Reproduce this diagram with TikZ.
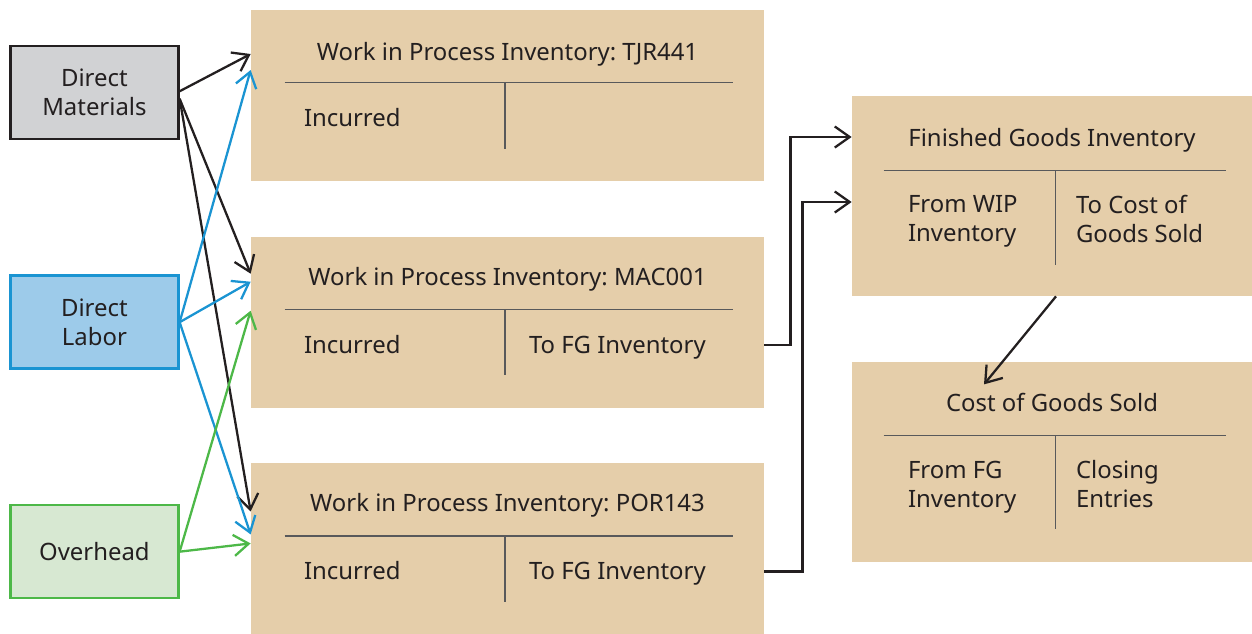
\documentclass[tikz,border=0pt]{standalone}
\usepackage{fontspec}
\setmainfont{Noto Sans}
\usepackage{tikz}
\usetikzlibrary{positioning, arrows.meta}
\usepackage{xcolor}
\frenchspacing

\definecolor{tanfill}{HTML}{E5CEAA}
\definecolor{matfill}{HTML}{D1D2D4}
\definecolor{matline}{HTML}{231F20}
\definecolor{labfill}{HTML}{9DCBEA}
\definecolor{labline}{HTML}{1A94D2}
\definecolor{ovhfill}{HTML}{D7E8D2}
\definecolor{ovhline}{HTML}{4DB848}
\definecolor{tgray}{HTML}{58595B}

\begin{document}
\begin{tikzpicture}[>={Straight Barb[length=8.5pt,width=12pt]},
    every node/.style={font=\fontsize{13.6}{16.5}\selectfont, text=matline},
    cost/.style={draw, line width=1.4pt, minimum width=3.36cm, minimum height=1.86cm, align=center},
    account/.style={fill=tanfill, inner sep=0pt, minimum width=10.26cm, minimum height=3.42cm},
    fgaccount/.style={fill=tanfill, inner sep=0pt, minimum width=8cm, minimum height=4cm},
    title/.style={inner sep=0pt, text height=0.8em, text depth=0.25em},
    entry/.style={inner sep=0pt, anchor=west, align=left, text depth=0.25em},
    tline/.style={tgray, line width=0.8pt},
    flow/.style={->, line width=1.3pt}]
    \useasboundingbox (0,0) rectangle (25.04,-12.66);

    % work in process accounts
    \node[account] (wip1) at (10.15,-1.91) {};
    \node[account] (wip2) [below=1.1cm of wip1] {};
    \node[account] (wip3) [below=1.1cm of wip2] {};

    % cost inputs
    \node[cost, fill=labfill, draw=labline] (dl) [left=1.42cm of wip2] {Direct\\Labor};
    \node[cost, fill=matfill, draw=matline] (dm) [above=2.68cm of dl] {Direct\\Materials};
    \node[cost, fill=ovhfill, draw=ovhline] (oh) [below=2.68cm of dl] {Overhead};

    % finished goods and cost of goods sold
    \node[fgaccount] (fg) at (21.04,-3.92) {};
    \node[fgaccount] (cogs) [below=1.3cm of fg] {};

    % T-accounts for WIP
    \node[title] (t1) at ([yshift=-0.92cm]wip1.north) {Work in Process Inventory: TJR441};
    \draw[tline] ([shift={(0.68,-1.46)}]wip1.north west) -- ([shift={(-0.62,-1.46)}]wip1.north east);
    \draw[tline] ([shift={(-0.05,-1.46)}]wip1.north) -- ([shift={(-0.05,-2.78)}]wip1.north);
    \node[entry, text height=0.8em] (in1) at ([shift={(1.06,-2.24)}]wip1.north west) {Incurred};

    \node[title] (t2) at ([yshift=-0.89cm]wip2.north) {Work in Process Inventory: MAC001};
    \draw[tline] ([shift={(0.68,-1.46)}]wip2.north west) -- ([shift={(-0.62,-1.46)}]wip2.north east);
    \draw[tline] ([shift={(-0.05,-1.46)}]wip2.north) -- ([shift={(-0.05,-2.78)}]wip2.north);
    \node[entry, text height=0.8em] (in2) at ([shift={(1.06,-2.24)}]wip2.north west) {Incurred};
    \node[entry, text height=0.8em] (out2) at ([shift={(5.56,-2.24)}]wip2.north west) {To FG Inventory};

    \node[title] (t3) at ([yshift=-0.88cm]wip3.north) {Work in Process Inventory: POR143};
    \draw[tline] ([shift={(0.68,-1.46)}]wip3.north west) -- ([shift={(-0.62,-1.46)}]wip3.north east);
    \draw[tline] ([shift={(-0.05,-1.46)}]wip3.north) -- ([shift={(-0.05,-2.78)}]wip3.north);
    \node[entry, text height=0.8em] (in3) at ([shift={(1.06,-2.24)}]wip3.north west) {Incurred};
    \node[entry, text height=0.8em] (out3) at ([shift={(5.56,-2.24)}]wip3.north west) {To FG Inventory};

    % T-accounts for FG and COGS
    \node[title] (t4) at ([yshift=-0.92cm]fg.north) {Finished Goods Inventory};
    \draw[tline] ([shift={(0.64,-1.5)}]fg.north west) -- ([shift={(-0.52,-1.5)}]fg.north east);
    \draw[tline] ([shift={(4.08,-1.5)}]fg.north west) -- ([shift={(4.08,-3.38)}]fg.north west);
    \node[entry] (in4) at ([shift={(1.12,-2.50)}]fg.north west) {From WIP\\Inventory};
    \node[entry] (out4) at ([shift={(4.48,-2.50)}]fg.north west) {To Cost of\\Goods Sold};

    \node[title] (t5) at ([yshift=-0.90cm]cogs.north) {Cost of Goods Sold};
    \draw[tline] ([shift={(0.64,-1.48)}]cogs.north west) -- ([shift={(-0.52,-1.48)}]cogs.north east);
    \draw[tline] ([shift={(4.08,-1.48)}]cogs.north west) -- ([shift={(4.08,-3.36)}]cogs.north west);
    \node[entry] (in5) at ([shift={(1.12,-2.50)}]cogs.north west) {From FG\\Inventory};
    \node[entry] (out5) at ([shift={(4.48,-2.50)}]cogs.north west) {Closing\\Entries};

    % costs into WIP
    \draw[flow, matline] ([yshift=0.03cm]dm.east) -- ([yshift=0.83cm]wip1.west);
    \draw[flow, matline] ([yshift=-0.12cm]dm.east) -- ([yshift=0.97cm]wip2.west);
    \draw[flow, matline] ([yshift=-0.12cm]dm.east) -- ([yshift=0.75cm]wip3.west);
    \draw[flow, labline] (dl.east) -- ([yshift=0.51cm]wip1.west);
    \draw[flow, labline] (dl.east) -- ([yshift=0.81cm]wip2.west);
    \draw[flow, labline] (dl.east) -- ([yshift=0.29cm]wip3.west);
    \draw[flow, ovhline] (oh.east) -- ([yshift=0.23cm]wip2.west);
    \draw[flow, ovhline] (oh.east) -- ([yshift=0.11cm]wip3.west);

    % transfers
    \draw[flow, matline] ([yshift=-0.45cm]wip2.east) -- ++(0.52,0) |- ([yshift=1.18cm]fg.west);
    \draw[flow, matline] ([yshift=-0.45cm]wip3.east) -- ++(0.76,0) |- ([yshift=-0.12cm]fg.west);
    \draw[flow, matline] ([xshift=0.08cm]fg.south) -- ([shift={(-1.36,-0.46)}]cogs.north);
\end{tikzpicture}
\end{document}
